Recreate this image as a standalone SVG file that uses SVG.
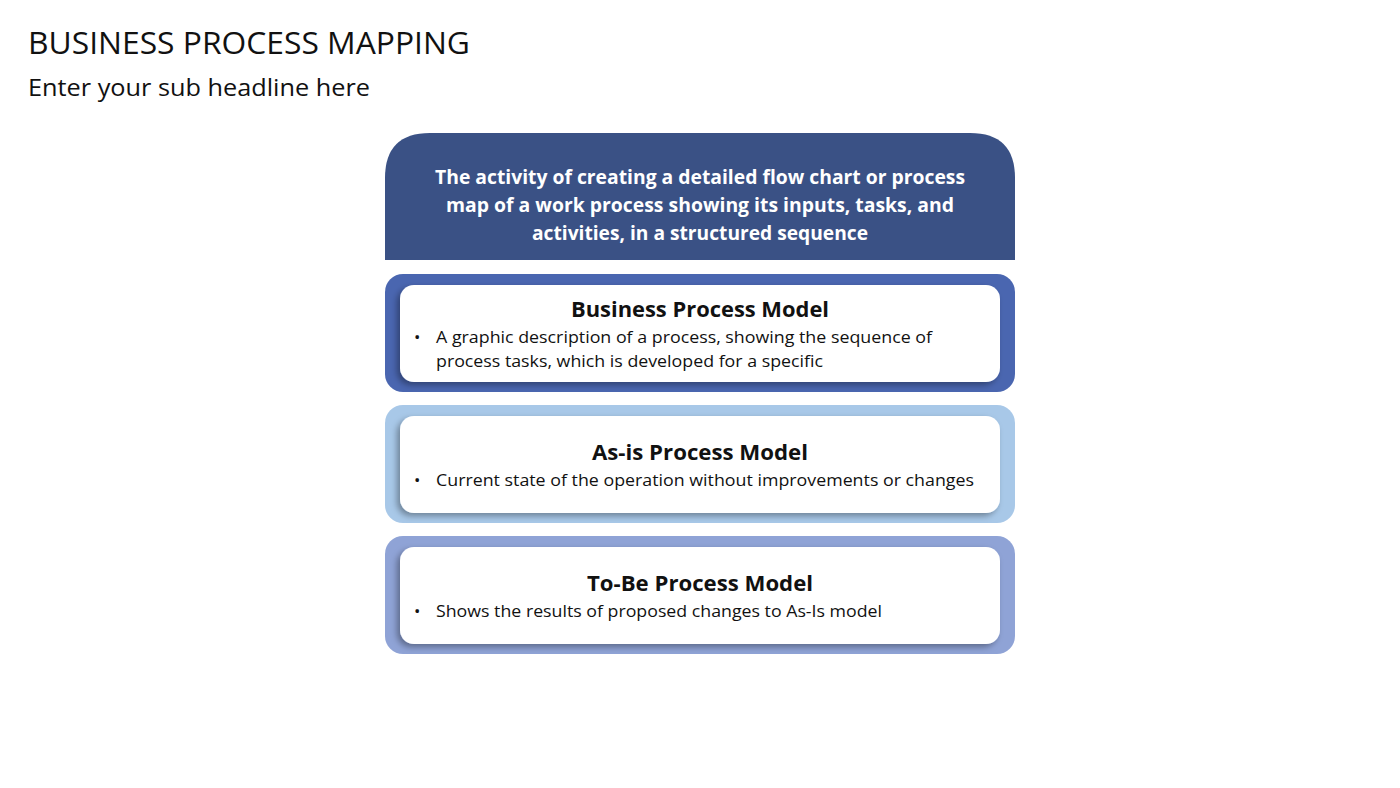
<svg xmlns="http://www.w3.org/2000/svg" width="1400" height="788" viewBox="0 0 1400 788">
<defs>
<style>
text{font-family:"Open Sans","Liberation Sans",sans-serif;}
.h{font-size:31px;fill:#111}
.s{font-size:24px;fill:#111}
.hd{font-size:20px;font-weight:bold;fill:#fff}
.t{font-size:21px;font-weight:bold;fill:#111}
.b{font-size:17px;fill:#111}
.in{fill:#fff;filter:url(#sh)}
</style>
<filter id="sh" x="-5%" y="-20%" width="110%" height="140%"><feDropShadow dx="-3" dy="3" stdDeviation="3" flood-color="#000" flood-opacity="0.35"/></filter>
</defs>
<rect width="1400" height="788" fill="#fff"/>
<text class="h" x="28" y="54" textLength="442" lengthAdjust="spacingAndGlyphs">BUSINESS PROCESS MAPPING</text>
<text class="s" x="28" y="96" textLength="342" lengthAdjust="spacingAndGlyphs">Enter your sub headline here</text>
<g id="header">
<path d="M385 260 V178 Q385 133 430 133 H970 Q1015 133 1015 178 V260 Z" fill="#3A5185"/>
<text class="hd" text-anchor="middle" x="700" y="184" textLength="530" lengthAdjust="spacingAndGlyphs">The activity of creating a detailed flow chart or process</text>
<text class="hd" text-anchor="middle" x="700" y="212" textLength="508" lengthAdjust="spacingAndGlyphs">map of a work process showing its inputs, tasks, and</text>
<text class="hd" text-anchor="middle" x="700" y="240" textLength="336" lengthAdjust="spacingAndGlyphs">activities, in a structured sequence</text>
</g>
<g id="bpm">
<rect x="385" y="274" width="630" height="118" rx="18" fill="#4A66B0"/>
<rect class="in" x="400" y="285" width="600" height="97" rx="14"/>
<text class="t" text-anchor="middle" x="700" y="317" textLength="258" lengthAdjust="spacingAndGlyphs">Business Process Model</text>
<text class="b" x="414" y="343">•</text>
<text class="b" x="436" y="343" textLength="496" lengthAdjust="spacingAndGlyphs">A graphic description of a process, showing the sequence of</text>
<text class="b" x="436" y="367" textLength="387" lengthAdjust="spacingAndGlyphs">process tasks, which is developed for a specific</text>
</g>
<g id="asis">
<rect x="385" y="405" width="630" height="118" rx="18" fill="#A8C8E8"/>
<rect class="in" x="400" y="416" width="600" height="97" rx="14"/>
<text class="t" text-anchor="middle" x="700" y="460" textLength="216" lengthAdjust="spacingAndGlyphs">As-is Process Model</text>
<text class="b" x="414" y="486">•</text>
<text class="b" x="436" y="486" textLength="538" lengthAdjust="spacingAndGlyphs">Current state of the operation without improvements or changes</text>
</g>
<g id="tobe">
<rect x="385" y="536" width="630" height="118" rx="18" fill="#8FA3D6"/>
<rect class="in" x="400" y="547" width="600" height="97" rx="14"/>
<text class="t" text-anchor="middle" x="700" y="591" textLength="226" lengthAdjust="spacingAndGlyphs">To-Be Process Model</text>
<text class="b" x="414" y="617">•</text>
<text class="b" x="436" y="617" textLength="446" lengthAdjust="spacingAndGlyphs">Shows the results of proposed changes to As-Is model</text>
</g>
<g id="connectors"/>
</svg>
